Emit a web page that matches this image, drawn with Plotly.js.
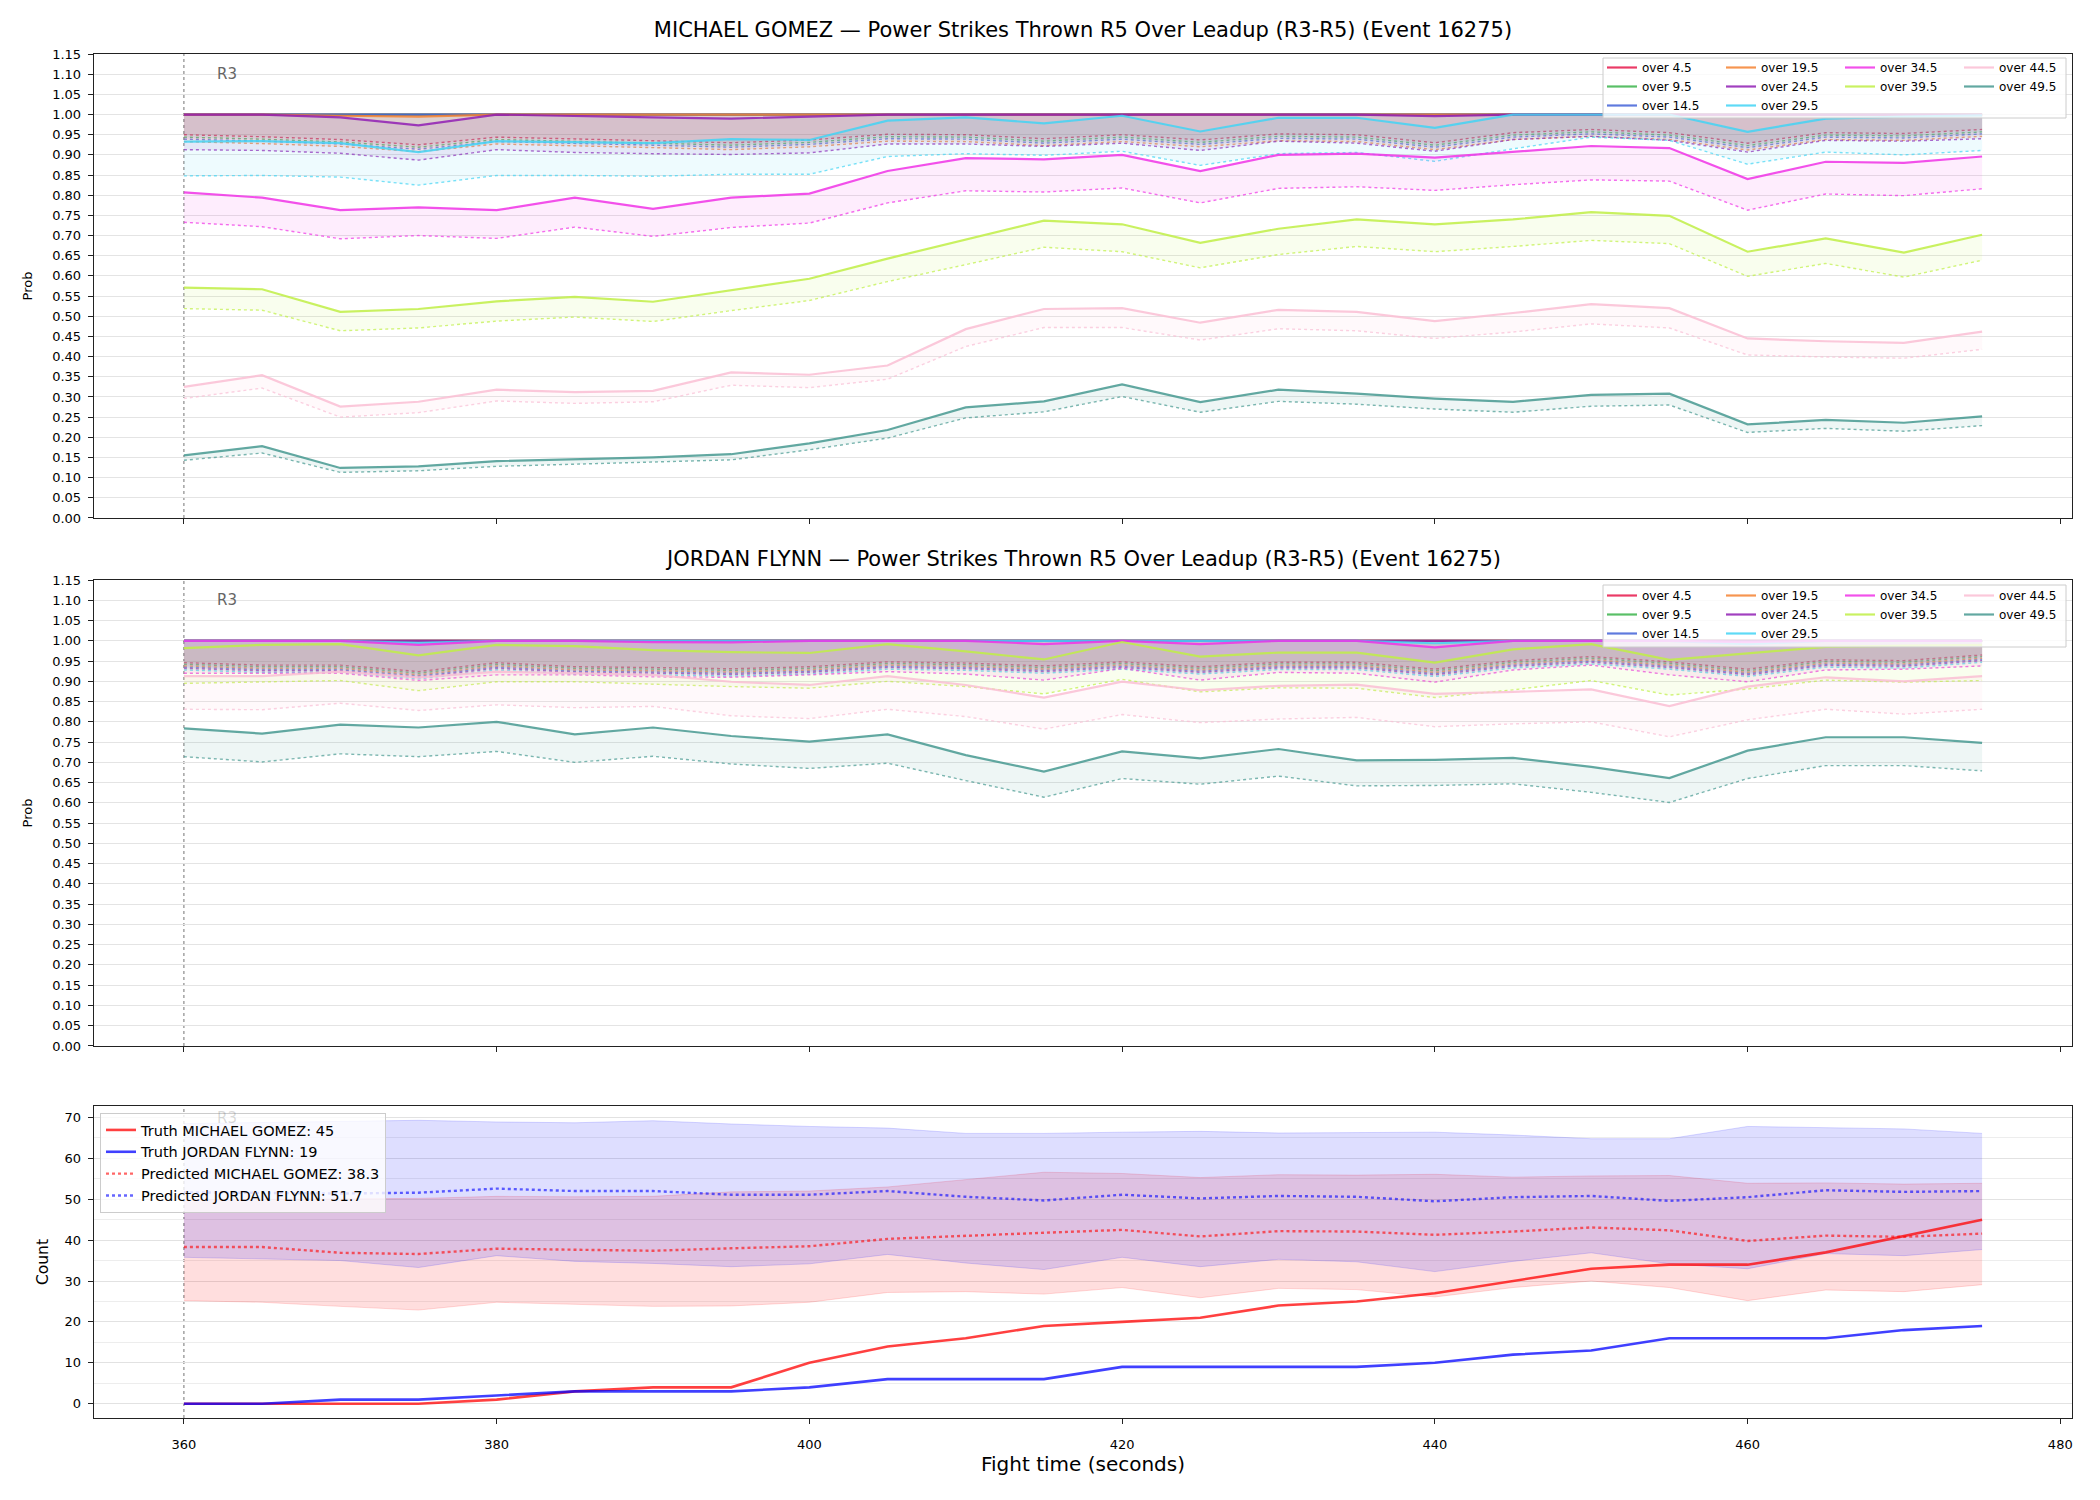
<!DOCTYPE html>
<html>
<head>
<meta charset="utf-8">
<script src="https://cdn.plot.ly/plotly-3.0.1.min.js"></script>
<style>html,body{margin:0;padding:0;background:#fff}#chart{width:2100px;height:1500px}</style>
</head>
<body>
<div id="chart"></div>
<script>
// ---------------- DATA ----------------
const fightTime = [360,365,370,375,380,385,390,395,400,405,410,415,420,425,430,435,440,445,450,455,460,465,470,475];
const thresholdLabels = ['over 4.5','over 9.5','over 14.5','over 19.5','over 24.5','over 29.5','over 34.5','over 39.5','over 44.5','over 49.5'];

// MICHAEL GOMEZ: solid line (hi) and dotted line (lo) for each threshold
const gomezHi_4_5  = [1,1,1,1,1,1,1,1,1,1,1,1,1,1,1,1,1,1,1,1,1,1,1,1];
const gomezLo_4_5  = [0.950,0.945,0.938,0.925,0.944,0.940,0.935,0.930,0.937,0.951,0.950,0.940,0.950,0.937,0.952,0.950,0.930,0.955,0.963,0.955,0.929,0.955,0.953,0.963];
const gomezHi_9_5  = [1,1,1,1,1,1,1,1,1,1,1,1,1,1,1,1,1,1,1,1,1,1,1,1];
const gomezLo_9_5  = [0.944,0.939,0.932,0.919,0.938,0.934,0.929,0.924,0.931,0.945,0.944,0.934,0.944,0.931,0.946,0.944,0.924,0.949,0.957,0.949,0.923,0.949,0.947,0.957];
const gomezHi_14_5 = [1,1,1,1,1,1,1,1,1,1,1,1,1,1,1,1,1,1,1,1,1,1,1,1];
const gomezLo_14_5 = [0.939,0.934,0.927,0.914,0.933,0.929,0.924,0.919,0.926,0.940,0.939,0.929,0.939,0.926,0.941,0.939,0.919,0.944,0.952,0.944,0.918,0.944,0.942,0.952];
const gomezHi_19_5 = [1,1,0.997,0.995,1,1,1,1,1,1,1,1,1,1,1,1,1,1,1,1,1,1,1,1];
const gomezLo_19_5 = [0.933,0.928,0.921,0.908,0.927,0.923,0.918,0.913,0.920,0.934,0.933,0.923,0.933,0.920,0.935,0.933,0.913,0.938,0.946,0.938,0.912,0.938,0.936,0.946];
const gomezHi_24_5 = [1.0,1.0,0.993,0.973,1.0,0.996,0.993,0.990,0.995,1.0,1.0,1.0,1.0,1.0,1.0,1.0,0.996,1.0,1.0,1.0,1.0,1.0,1.0,1.0];
const gomezLo_24_5 = [0.913,0.911,0.904,0.887,0.913,0.906,0.903,0.901,0.905,0.927,0.927,0.921,0.929,0.911,0.934,0.929,0.909,0.938,0.946,0.936,0.907,0.936,0.934,0.940];
const gomezHi_29_5 = [0.933,0.934,0.929,0.907,0.934,0.932,0.929,0.939,0.937,0.985,0.993,0.978,0.997,0.958,0.992,0.992,0.967,1.0,1.0,1.0,0.957,0.990,0.995,0.998];
const gomezLo_29_5 = [0.848,0.849,0.845,0.825,0.849,0.849,0.847,0.852,0.852,0.896,0.903,0.899,0.909,0.874,0.903,0.906,0.884,0.915,0.944,0.936,0.877,0.907,0.900,0.911];
const gomezHi_34_5 = [0.807,0.794,0.763,0.770,0.763,0.794,0.766,0.794,0.804,0.860,0.892,0.889,0.900,0.860,0.900,0.903,0.893,0.908,0.922,0.917,0.840,0.883,0.880,0.896];
const gomezLo_34_5 = [0.733,0.722,0.692,0.700,0.693,0.721,0.698,0.720,0.731,0.781,0.811,0.808,0.818,0.781,0.817,0.821,0.812,0.826,0.838,0.835,0.763,0.803,0.799,0.816];
const gomezHi_39_5 = [0.571,0.567,0.511,0.518,0.537,0.548,0.536,0.565,0.593,0.643,0.690,0.737,0.728,0.682,0.717,0.740,0.728,0.740,0.758,0.749,0.660,0.693,0.658,0.702];
const gomezLo_39_5 = [0.519,0.515,0.464,0.471,0.488,0.498,0.487,0.514,0.539,0.586,0.628,0.671,0.660,0.620,0.653,0.673,0.660,0.673,0.688,0.680,0.599,0.631,0.597,0.639];
const gomezHi_44_5 = [0.325,0.354,0.276,0.288,0.318,0.312,0.315,0.361,0.355,0.378,0.468,0.518,0.520,0.484,0.516,0.511,0.488,0.508,0.530,0.520,0.445,0.438,0.434,0.462];
const gomezLo_44_5 = [0.296,0.322,0.250,0.261,0.290,0.284,0.288,0.329,0.323,0.344,0.425,0.472,0.472,0.441,0.469,0.464,0.445,0.461,0.481,0.471,0.404,0.399,0.396,0.418];
const gomezHi_49_5 = [0.155,0.178,0.124,0.128,0.141,0.146,0.150,0.158,0.185,0.218,0.274,0.289,0.331,0.287,0.318,0.308,0.296,0.288,0.305,0.308,0.232,0.243,0.236,0.252];
const gomezLo_49_5 = [0.143,0.161,0.113,0.117,0.128,0.133,0.138,0.144,0.169,0.198,0.248,0.263,0.301,0.262,0.289,0.282,0.270,0.262,0.277,0.280,0.212,0.222,0.215,0.229];

// JORDAN FLYNN
const flynnHi_4_5  = [1,1,1,1,1,1,1,1,1,1,1,1,1,1,1,1,1,1,1,1,1,1,1,1];
const flynnLo_4_5  = [0.946,0.940,0.940,0.924,0.946,0.936,0.934,0.931,0.936,0.948,0.945,0.938,0.948,0.936,0.947,0.947,0.930,0.951,0.961,0.948,0.930,0.953,0.951,0.965];
const flynnHi_9_5  = [1,1,1,1,1,1,1,1,1,1,1,1,1,1,1,1,1,1,1,1,1,1,1,1];
const flynnLo_9_5  = [0.942,0.936,0.936,0.920,0.942,0.932,0.930,0.927,0.932,0.944,0.941,0.934,0.944,0.932,0.943,0.943,0.926,0.947,0.957,0.944,0.926,0.949,0.947,0.961];
const flynnHi_14_5 = [1,1,1,1,1,1,1,1,1,1,1,1,1,1,1,1,1,1,1,1,1,1,1,1];
const flynnLo_14_5 = [0.935,0.929,0.929,0.913,0.935,0.925,0.923,0.920,0.925,0.937,0.934,0.927,0.937,0.925,0.936,0.936,0.919,0.940,0.950,0.937,0.919,0.942,0.940,0.954];
const flynnHi_19_5 = [1,1,1,1,1,1,1,1,1,1,1,1,1,1,1,1,1,1,1,1,1,1,1,1];
const flynnLo_19_5 = [0.938,0.932,0.932,0.916,0.938,0.928,0.926,0.923,0.928,0.940,0.937,0.930,0.940,0.928,0.939,0.939,0.922,0.943,0.953,0.940,0.922,0.945,0.943,0.957];
const flynnHi_24_5 = [1,1,1,1,1,1,1,1,1,1,1,1,1,1,1,1,1,1,1,1,1,1,1,1];
const flynnLo_24_5 = [0.932,0.926,0.926,0.910,0.932,0.922,0.920,0.917,0.922,0.934,0.931,0.924,0.934,0.922,0.933,0.933,0.916,0.937,0.947,0.934,0.916,0.939,0.937,0.951];
const flynnHi_29_5 = [1,1,1,0.995,1,1,1,1,1,1,1,1,1,1,1,1,0.994,1,1,1,0.992,1,1,1];
const flynnLo_29_5 = [0.928,0.922,0.922,0.906,0.928,0.918,0.916,0.913,0.918,0.930,0.927,0.920,0.930,0.918,0.929,0.929,0.912,0.933,0.943,0.930,0.912,0.935,0.933,0.947];
const flynnHi_34_5 = [1,1,1,0.990,1,1,0.997,0.996,1,1,1,0.992,1,0.992,1,1,0.984,1,1,1,0.997,1,1,1];
const flynnLo_34_5 = [0.920,0.920,0.920,0.902,0.916,0.916,0.911,0.910,0.916,0.924,0.918,0.903,0.932,0.903,0.922,0.920,0.898,0.928,0.940,0.916,0.899,0.928,0.930,0.938];
const flynnHi_39_5 = [0.982,0.990,0.992,0.964,0.990,0.987,0.977,0.972,0.970,0.992,0.974,0.954,0.997,0.961,0.971,0.971,0.946,0.979,0.992,0.953,0.969,0.985,0.988,0.990];
const flynnLo_39_5 = [0.895,0.899,0.902,0.877,0.899,0.899,0.893,0.887,0.883,0.900,0.887,0.869,0.905,0.874,0.884,0.883,0.860,0.879,0.902,0.866,0.881,0.903,0.898,0.902];
const flynnHi_44_5 = [0.913,0.913,0.924,0.910,0.924,0.920,0.916,0.899,0.891,0.913,0.891,0.860,0.899,0.878,0.889,0.892,0.869,0.874,0.880,0.839,0.887,0.910,0.900,0.913];
const flynnLo_44_5 = [0.831,0.830,0.846,0.828,0.842,0.835,0.838,0.815,0.808,0.831,0.813,0.782,0.818,0.798,0.807,0.811,0.788,0.795,0.800,0.763,0.805,0.831,0.819,0.831];
const flynnHi_49_5 = [0.784,0.771,0.793,0.786,0.800,0.769,0.786,0.765,0.751,0.769,0.718,0.677,0.727,0.710,0.733,0.705,0.706,0.711,0.689,0.661,0.729,0.762,0.762,0.748];
const flynnLo_49_5 = [0.714,0.701,0.721,0.714,0.727,0.700,0.715,0.696,0.685,0.698,0.655,0.614,0.660,0.646,0.666,0.642,0.643,0.647,0.626,0.601,0.660,0.692,0.692,0.679];

// Counts
const truthGomez = [0,0,0,0,1,3,4,4,10,14,16,19,20,21,24,25,27,30,33,34,34,37,41,45];
const truthFlynn = [0,0,1,1,2,3,3,3,4,6,6,6,9,9,9,9,10,12,13,16,16,16,18,19];
const predGomez  = [38.3,38.3,36.9,36.6,37.9,37.7,37.4,38.0,38.5,40.3,41.1,41.8,42.5,40.9,42.2,42.1,41.3,42.1,43.1,42.4,39.8,41.1,40.8,41.6];
const predGomezLo = [25.2,24.8,23.8,22.9,24.8,24.3,23.8,23.9,24.8,27.2,27.4,26.8,28.4,25.9,28.2,27.9,26.1,28.4,30.0,28.4,25.2,27.8,27.4,29.1];
const predGomezHi = [49.8,50.0,50.1,50.2,50.7,50.6,50.7,51.8,52.0,53.0,54.8,56.6,56.3,55.3,56.0,55.9,56.1,55.4,55.7,55.8,53.9,54.0,53.7,53.9];
const predFlynn  = [51.7,51.6,51.4,51.6,52.6,52.0,52.0,51.1,51.1,52.0,50.6,49.7,51.1,50.2,50.8,50.6,49.5,50.5,50.8,49.6,50.5,52.2,51.8,52.0];
const predFlynnLo = [35.8,35.4,35.0,33.3,36.2,34.8,34.3,33.5,34.2,36.5,34.4,32.8,35.8,33.5,35.3,34.7,32.3,34.8,36.9,34.2,33.0,36.7,36.2,37.7];
const predFlynnHi = [68.5,68.8,69.0,69.3,68.9,68.7,69.2,68.4,67.8,67.4,66.1,66.1,66.4,66.6,66.2,66.3,66.4,65.7,64.8,64.8,67.8,67.5,67.2,66.1];

// ---------------- STYLE ----------------
const palette = [[230,25,75],[60,180,75],[67,99,216],[245,130,49],[145,30,180],[66,212,244],[240,50,230],[191,239,69],[250,190,212],[70,153,144]];
const rgba = (c, a) => `rgba(${c[0]},${c[1]},${c[2]},${a})`;
const FONT = 'DejaVu Sans, Liberation Sans, sans-serif';

const gomezSeries = [[gomezHi_4_5,gomezLo_4_5],[gomezHi_9_5,gomezLo_9_5],[gomezHi_14_5,gomezLo_14_5],[gomezHi_19_5,gomezLo_19_5],[gomezHi_24_5,gomezLo_24_5],[gomezHi_29_5,gomezLo_29_5],[gomezHi_34_5,gomezLo_34_5],[gomezHi_39_5,gomezLo_39_5],[gomezHi_44_5,gomezLo_44_5],[gomezHi_49_5,gomezLo_49_5]];
const flynnSeries = [[flynnHi_4_5,flynnLo_4_5],[flynnHi_9_5,flynnLo_9_5],[flynnHi_14_5,flynnLo_14_5],[flynnHi_19_5,flynnLo_19_5],[flynnHi_24_5,flynnLo_24_5],[flynnHi_29_5,flynnLo_29_5],[flynnHi_34_5,flynnLo_34_5],[flynnHi_39_5,flynnLo_39_5],[flynnHi_44_5,flynnLo_44_5],[flynnHi_49_5,flynnLo_49_5]];
const columnOf = [0,0,0,1,1,1,2,2,3,3];

const traces = [];
function addProbPanel(series, xa, ya, legendIds) {
  series.forEach((pair, i) => {
    const c = palette[i];
    const lg = legendIds[columnOf[i]];
    traces.push({x: fightTime, y: pair[0], xaxis: xa, yaxis: ya, type: 'scatter', mode: 'lines',
      name: thresholdLabels[i], legend: lg,
      line: {color: rgba(c, 0.85), width: 2.2}, hoverinfo: 'skip'});
    traces.push({x: fightTime, y: pair[1], xaxis: xa, yaxis: ya, type: 'scatter', mode: 'lines',
      showlegend: false, legend: lg, line: {color: rgba(c, 0.7), width: 1.4, dash: 'dot'},
      fill: 'tonexty', fillcolor: rgba(c, 0.09), hoverinfo: 'skip'});
  });
}
addProbPanel(gomezSeries, 'x', 'y', ['legend','legend2','legend3','legend4']);
addProbPanel(flynnSeries, 'x2', 'y2', ['legend5','legend6','legend7','legend8']);

// bands
traces.push({x: fightTime, y: predGomezLo, xaxis: 'x3', yaxis: 'y3', mode: 'lines', showlegend: false, legend: 'legend9',
  line: {color: 'rgba(255,0,0,0.15)', width: 1}, hoverinfo: 'skip'});
traces.push({x: fightTime, y: predGomezHi, xaxis: 'x3', yaxis: 'y3', mode: 'lines', showlegend: false, legend: 'legend9',
  line: {color: 'rgba(255,0,0,0.15)', width: 1}, fill: 'tonexty', fillcolor: 'rgba(255,0,0,0.13)', hoverinfo: 'skip'});
traces.push({x: fightTime, y: predFlynnLo, xaxis: 'x3', yaxis: 'y3', mode: 'lines', showlegend: false, legend: 'legend9',
  line: {color: 'rgba(0,0,255,0.15)', width: 1}, hoverinfo: 'skip'});
traces.push({x: fightTime, y: predFlynnHi, xaxis: 'x3', yaxis: 'y3', mode: 'lines', showlegend: false, legend: 'legend9',
  line: {color: 'rgba(0,0,255,0.15)', width: 1}, fill: 'tonexty', fillcolor: 'rgba(0,0,255,0.13)', hoverinfo: 'skip'});
traces.push({x: fightTime, y: truthGomez, xaxis: 'x3', yaxis: 'y3', mode: 'lines', legend: 'legend9',
  name: 'Truth MICHAEL GOMEZ: ' + truthGomez[truthGomez.length-1], line: {color: 'rgba(255,0,0,0.75)', width: 2.6}});
traces.push({x: fightTime, y: truthFlynn, xaxis: 'x3', yaxis: 'y3', mode: 'lines', legend: 'legend9',
  name: 'Truth JORDAN FLYNN: ' + truthFlynn[truthFlynn.length-1], line: {color: 'rgba(0,0,255,0.75)', width: 2.6}});
traces.push({x: fightTime, y: predGomez, xaxis: 'x3', yaxis: 'y3', mode: 'lines', legend: 'legend9',
  name: 'Predicted MICHAEL GOMEZ: ' + predGomez[0].toFixed(1), line: {color: 'rgba(255,0,0,0.6)', width: 2.4, dash: 'dot'}});
traces.push({x: fightTime, y: predFlynn, xaxis: 'x3', yaxis: 'y3', mode: 'lines', legend: 'legend9',
  name: 'Predicted JORDAN FLYNN: ' + predFlynn[0].toFixed(1), line: {color: 'rgba(0,0,255,0.6)', width: 2.4, dash: 'dot'}});

// ---------------- LAYOUT ----------------
const XR = [354.25, 480.75];
const tickFont = {family: FONT, size: 13, color: '#000'};
function xAxis(anchor, labels) {
  return {domain: [0, 1], anchor: anchor, range: XR, tick0: 360, dtick: 20, showgrid: false, zeroline: false,
    showline: true, mirror: true, linecolor: '#222', linewidth: 1.3, ticks: 'outside', ticklen: 5, tickcolor: '#222',
    showticklabels: labels, tickfont: tickFont, ticklabelstandoff: 9};
}
function probY(anchor, domain) {
  return {domain: domain, anchor: anchor, range: [-0.0001, 1.1501], tick0: 0, dtick: 0.05, tickformat: '.2f',
    showgrid: true, gridcolor: '#e4e4e4', gridwidth: 1, zeroline: false, showline: true, mirror: true,
    linecolor: '#222', linewidth: 1.3, ticks: 'outside', ticklen: 5, tickcolor: '#222', tickfont: tickFont,
    ticklabelstandoff: 4, title: {text: 'Prob', font: {family: FONT, size: 13, color: '#000'}, standoff: 16}};
}
const L = {l: 94, r: 28, t: 54, b: 82};
const pw = 2100 - L.l - L.r, ph = 1500 - L.t - L.b;
const px = v => (v - L.l) / pw;
const py = v => (1500 - L.b - v) / ph;

function colLegend(xpx, ypx) {
  return {x: px(xpx), y: py(ypx), xanchor: 'left', yanchor: 'top', bgcolor: 'rgba(0,0,0,0)', borderwidth: 0,
    font: {family: FONT, size: 12, color: '#000'}, tracegroupgap: 0, itemwidth: 30, traceorder: 'normal'};
}
const legCols = [1602, 1721, 1840, 1959];

const vline = (xr, yr) => ({type: 'line', xref: xr, yref: yr + ' domain', x0: 360, x1: 360, y0: 0, y1: 1,
  layer: 'below', line: {color: 'rgba(0,0,0,0.55)', width: 1, dash: 'dot'}});

const layout = {
  width: 2100, height: 1500, margin: L, paper_bgcolor: '#fff', plot_bgcolor: '#fff',
  font: {family: FONT, color: '#000'},
  title: {text: 'MICHAEL GOMEZ — Power Strikes Thrown R5 Over Leadup (R3-R5) (Event 16275)',
    font: {family: FONT, size: 21, color: '#000'}, x: 0.5, xref: 'paper', xanchor: 'center',
    y: 1 - 29.5 / 1500, yref: 'container', yanchor: 'middle'},
  xaxis: xAxis('y', false),
  yaxis: probY('x', [py(518), 1]),
  xaxis2: xAxis('y2', false),
  yaxis2: probY('x2', [py(1046), py(580)]),
  xaxis3: Object.assign(xAxis('y3', true), {title: {text: 'Fight time (seconds)', font: {family: FONT, size: 20, color: '#000'}, standoff: 6}}),
  yaxis3: {domain: [0, py(1106)], anchor: 'x3', range: [-3.5, 72.8], tick0: 0, dtick: 10,
    showgrid: true, gridcolor: '#e2e2e2', gridwidth: 1, zeroline: false, showline: true, mirror: true,
    linecolor: '#222', linewidth: 1.3, ticks: 'outside', ticklen: 5, tickcolor: '#222', tickfont: tickFont,
    ticklabelstandoff: 4, minor: {dtick: 5, tick0: 0, showgrid: true, gridcolor: '#ededed', ticks: ''},
    title: {text: 'Count', font: {family: FONT, size: 15.5, color: '#000'}, standoff: 12}},
  legend:  colLegend(legCols[0], 53), legend2: colLegend(legCols[1], 53),
  legend3: colLegend(legCols[2], 53), legend4: colLegend(legCols[3], 53),
  legend5: colLegend(legCols[0], 581), legend6: colLegend(legCols[1], 581),
  legend7: colLegend(legCols[2], 581), legend8: colLegend(legCols[3], 581),
  legend9: {x: px(100), y: py(1113), xanchor: 'left', yanchor: 'top', bgcolor: 'rgba(255,255,255,0.8)',
    bordercolor: '#cccccc', borderwidth: 1, font: {family: FONT, size: 14.5, color: '#000'}, tracegroupgap: 0,
    itemwidth: 30, traceorder: 'normal'},
  shapes: [
    vline('x', 'y'), vline('x2', 'y2'), vline('x3', 'y3'),
    {type: 'rect', xref: 'paper', yref: 'paper', x0: px(1603), x1: px(2066), y0: py(118), y1: py(58), layer: 'above',
      fillcolor: 'rgba(255,255,255,0.8)', line: {color: '#cccccc', width: 1}},
    {type: 'rect', xref: 'paper', yref: 'paper', x0: px(1603), x1: px(2066), y0: py(647), y1: py(585), layer: 'above',
      fillcolor: 'rgba(255,255,255,0.8)', line: {color: '#cccccc', width: 1}}
  ],
  annotations: [
    {text: 'JORDAN FLYNN — Power Strikes Thrown R5 Over Leadup (R3-R5) (Event 16275)', xref: 'paper', yref: 'paper',
      x: 0.5, y: py(558.5), xanchor: 'center', yanchor: 'middle', showarrow: false, font: {family: FONT, size: 21, color: '#000'}},
    {text: 'R3', xref: 'x', yref: 'y', x: 362, y: 1.10, xanchor: 'left', yanchor: 'middle', showarrow: false, font: {family: FONT, size: 15, color: '#666'}},
    {text: 'R3', xref: 'x2', yref: 'y2', x: 362, y: 1.10, xanchor: 'left', yanchor: 'middle', showarrow: false, font: {family: FONT, size: 15, color: '#666'}},
    {text: 'R3', xref: 'x3', yref: 'y3', x: 362, y: 69.8, xanchor: 'left', yanchor: 'middle', showarrow: false, font: {family: FONT, size: 15, color: 'rgba(100,100,100,0.25)'}}
  ]
};

Plotly.newPlot('chart', traces, layout, {staticPlot: true, displayModeBar: false});
</script>
</body>
</html>
